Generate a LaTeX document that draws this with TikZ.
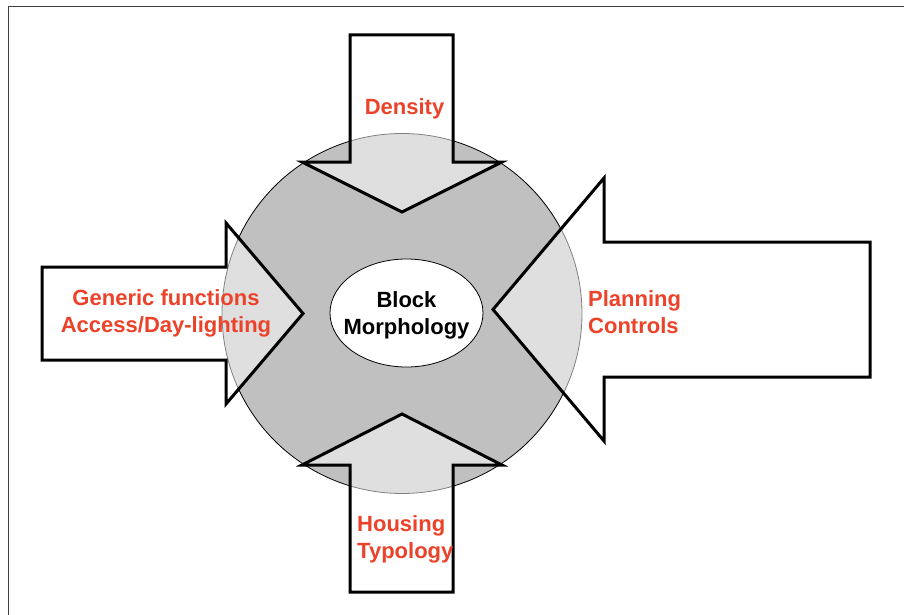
\documentclass[tikz,border=0pt]{standalone}
\usepackage{fontspec}
\setmainfont{Liberation Sans}
\definecolor{labelred}{RGB}{237,66,42}
\definecolor{discgray}{RGB}{192,192,192}

\begin{document}
\begin{tikzpicture}
  [x=1pt,y=-1pt,
    font=\bfseries\fontsize{22}{27}\selectfont,
    bigarrow/.style={draw=black,line width=3pt,miter limit=20,fill=white,fill opacity=0.5},
    label/.style={text=labelred,inner sep=0pt,text depth=0pt}]

  \useasboundingbox (0,0) rectangle (904,615);
  % frame
  \draw[black!75,line width=1.5pt] (904,6.5) -- (8.5,6.5) -- (8.5,615);

  \node[circle,draw=black,line width=0.8pt,fill=discgray,
        minimum size=360pt,inner sep=0pt] (disc) at (402,313.5) {};

  % the four arrows
  \draw[bigarrow] (350,35) -- (453,35) -- (453,162) -- (502,162)
    -- (402,212) -- (302,162) -- (350,162) -- cycle; % top
  \draw[bigarrow] (350,592) -- (453,592) -- (453,465) -- (502,465)
    -- (402,414) -- (302,465) -- (350,465) -- cycle; % bottom
  \draw[bigarrow] (42,267) -- (226,267) -- (226,223) -- (303,313.5)
    -- (226,404) -- (226,360) -- (42,360) -- cycle; % left
  \draw[bigarrow] (870,242) -- (604,242) -- (604,178) -- (493,309.5)
    -- (604,441) -- (604,377) -- (870,377) -- cycle; % right

  % centre
  \draw[line width=0.8pt,fill=white] (406.5,313) ellipse [x radius=76.5pt,y radius=54pt];
  \node[inner sep=0pt,align=center,text depth=0pt] (block) at (406.5,313) {Block\\Morphology};

  \node[label,anchor=north] (dens) at (404.5,98) {Density};
  \node[label,anchor=north,align=center] (gen) at (166,289)
    {Generic functions\\Access/Day-lighting};
  \node[label,anchor=north west,align=left] (plan) at (588,290)
    {Planning\\Controls};
  \node[label,anchor=north west,align=left] (hous) at (357,515)
    {Housing\\Typology};

\end{tikzpicture}
\end{document}
